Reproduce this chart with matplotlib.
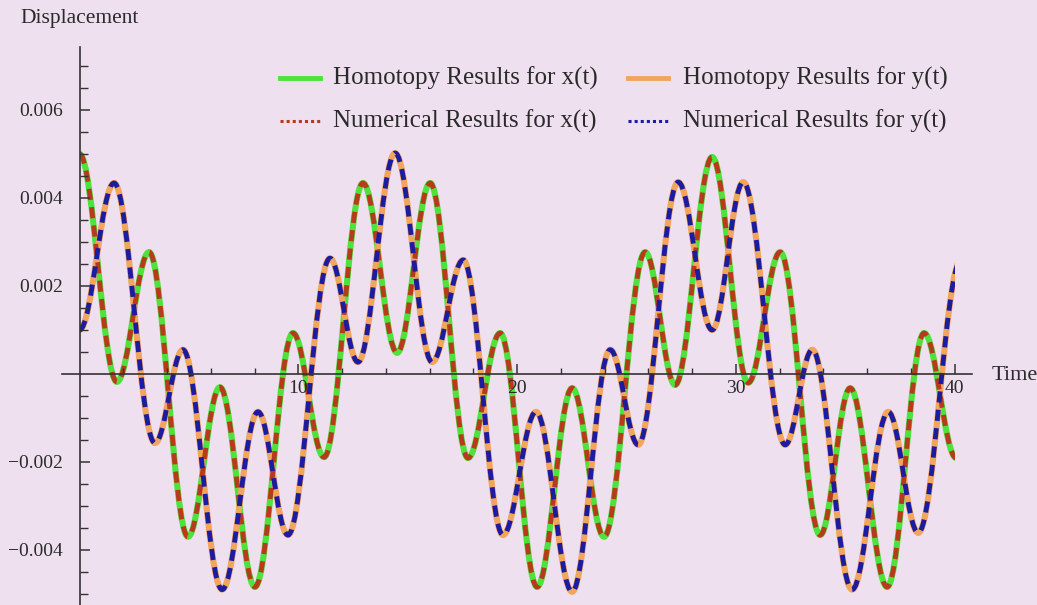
import matplotlib
matplotlib.use("Agg")
import matplotlib.pyplot as plt
from matplotlib.path import Path
from matplotlib.patches import PathPatch, Rectangle
from matplotlib.lines import Line2D

# extrema of the curves (time, displacement)
x_times = [0, 1.71, 3.18, 4.96, 6.42, 8.02, 9.76, 11.18, 12.96, 14.52, 16.03, 17.76, 19.23,
           20.92, 22.52, 23.98, 25.86, 27.23, 28.92, 30.57, 32.03, 33.86, 35.23, 36.92, 38.61, 40.08]
x_vals = [0.0050, -0.00018, 0.00277, -0.00370, -0.00030, -0.00484, 0.00093, -0.00189, 0.00434,
          0.00048, 0.00434, -0.00191, 0.00093, -0.00484, -0.00032, -0.00370, 0.00277, -0.00025,
          0.00493, -0.00020, 0.00277, -0.00366, -0.00032, -0.00484, 0.00093, -0.00191]

y_times = [0, 1.58, 3.45, 4.73, 6.52, 8.16, 9.53, 11.45, 12.73, 14.43, 16.12, 17.54, 19.36,
           20.87, 22.52, 24.26, 25.54, 27.37, 28.92, 30.34, 32.26, 33.50, 35.32, 36.97, 38.34, 40.3]
y_vals = [0.0010, 0.00434, -0.00157, 0.00055, -0.00490, -0.00086, -0.00366, 0.00263, 0.00027,
          0.00502, 0.00027, 0.00259, -0.00366, -0.00086, -0.00495, 0.00055, -0.00161, 0.00436,
          0.0010, 0.00436, -0.00161, 0.00055, -0.00490, -0.00086, -0.00361, 0.00259]

t_end = 40
y_major = [-0.004, -0.002, 0.002, 0.004, 0.006]
y_labels = ["\u22120.004", "\u22120.002", "0.002", "0.004", "0.006"]
x_major = [10, 20, 30, 40]

labels = ["Homotopy Results for x(t)", "Numerical Results for x(t)",
          "Homotopy Results for y(t)", "Numerical Results for y(t)"]

BG = "#efe0f0"
GREEN = "#4ee23c"
RED = "#b83a1c"
ORANGE = "#f2a65c"
BLUE = "#1c1ca0"
TXT = "#2a2a2a"
SERIF = ["Liberation Serif", "DejaVu Serif"]

W, H = 1037, 605


def wave_path(ts, vs, k=0.364):
    # smooth curve through successive extrema (flat tangent at each one)
    verts = [(ts[0], vs[0])]
    codes = [Path.MOVETO]
    for i in range(len(ts) - 1):
        dt = ts[i + 1] - ts[i]
        verts += [(ts[i] + k * dt, vs[i]), (ts[i + 1] - k * dt, vs[i + 1]), (ts[i + 1], vs[i + 1])]
        codes += [Path.CURVE4] * 3
    return Path(verts, codes)


fig = plt.figure(figsize=(W / 100, H / 100), dpi=100, facecolor=BG)
ax = fig.add_axes([62 / W, 0.0, (972 - 62) / W, 1 - 47 / H])
ax.set_facecolor(BG)
ax.set_xlim(-0.8, 40.8)
ax.set_ylim(-0.00525, 0.00743)

clip = Rectangle((0, -1), t_end, 2, transform=ax.transData)
dash = (0, (2.3, 1.5))
styles = [
    (x_times, x_vals, GREEN, 4.4, "-"),
    (y_times, y_vals, ORANGE, 4.4, "-"),
    (x_times, x_vals, RED, 3.5, dash),
    (y_times, y_vals, BLUE, 3.5, dash),
]
for ts, vs, col, lw, ls in styles:
    p = PathPatch(wave_path(ts, vs), fill=False, edgecolor=col, lw=lw, linestyle=ls,
                  capstyle="butt", joinstyle="round")
    ax.add_patch(p)
    p.set_clip_path(clip)

# axes through the origin, Mathematica style
for s in ["top", "right"]:
    ax.spines[s].set_visible(False)
ax.spines["left"].set_position(("data", 0))
ax.spines["bottom"].set_position(("data", 0))
for s in ["left", "bottom"]:
    ax.spines[s].set_color("#333333")
    ax.spines[s].set_linewidth(1.2)

ax.set_xticks(x_major)
ax.set_xticks([t for t in range(2, 41, 2) if t % 10], minor=True)
ax.set_xticklabels([str(t) for t in x_major])
ax.set_yticks(y_major)
ax.set_yticks([i * 0.0005 for i in range(-10, 15) if i % 4], minor=True)
ax.set_yticklabels(y_labels)
ax.tick_params(axis="x", which="major", direction="in", length=7, width=1.1, pad=4,
               colors="#333333", labelcolor=TXT)
ax.tick_params(axis="x", which="minor", direction="in", length=4, width=1.0, colors="#333333")
ax.tick_params(axis="y", which="major", direction="in", length=7, width=1.1, pad=12,
               colors="#333333", labelcolor=TXT)
ax.tick_params(axis="y", which="minor", direction="in", length=6, width=1.0, colors="#333333")
for lab in ax.get_xticklabels() + ax.get_yticklabels():
    lab.set_family(SERIF)
    lab.set_fontsize(14)

fig.text(20 / W, 1 - 19 / H, "Displacement", family=SERIF, fontsize=15.5, color=TXT,
         ha="left", va="center")
fig.text(992 / W, 1 - 375 / H, "Time", family=SERIF, fontsize=16, color=TXT,
         ha="left", va="center")

# legend, two columns
handles = [
    (GREEN, 3.5, "-"), (RED, 2.2, (0, (1, 1))),
    (ORANGE, 3.5, "-"), (BLUE, 2.2, (0, (1, 1))),
]
cols = [(280, 320, 333), (628, 668, 683)]
rows = [78, 121]
for i, (lab, (col, lw, ls)) in enumerate(zip(labels, handles)):
    x0, x1, xt = cols[i // 2]
    yy = 1 - rows[i % 2] / H
    fig.add_artist(Line2D([x0 / W, x1 / W], [yy, yy], transform=fig.transFigure,
                          color=col, lw=lw, linestyle=ls))
    fig.text(xt / W, yy, lab, family=SERIF, fontsize=18, color=TXT, ha="left", va="center")

fig.savefig("out.png", dpi=100, facecolor=BG)
